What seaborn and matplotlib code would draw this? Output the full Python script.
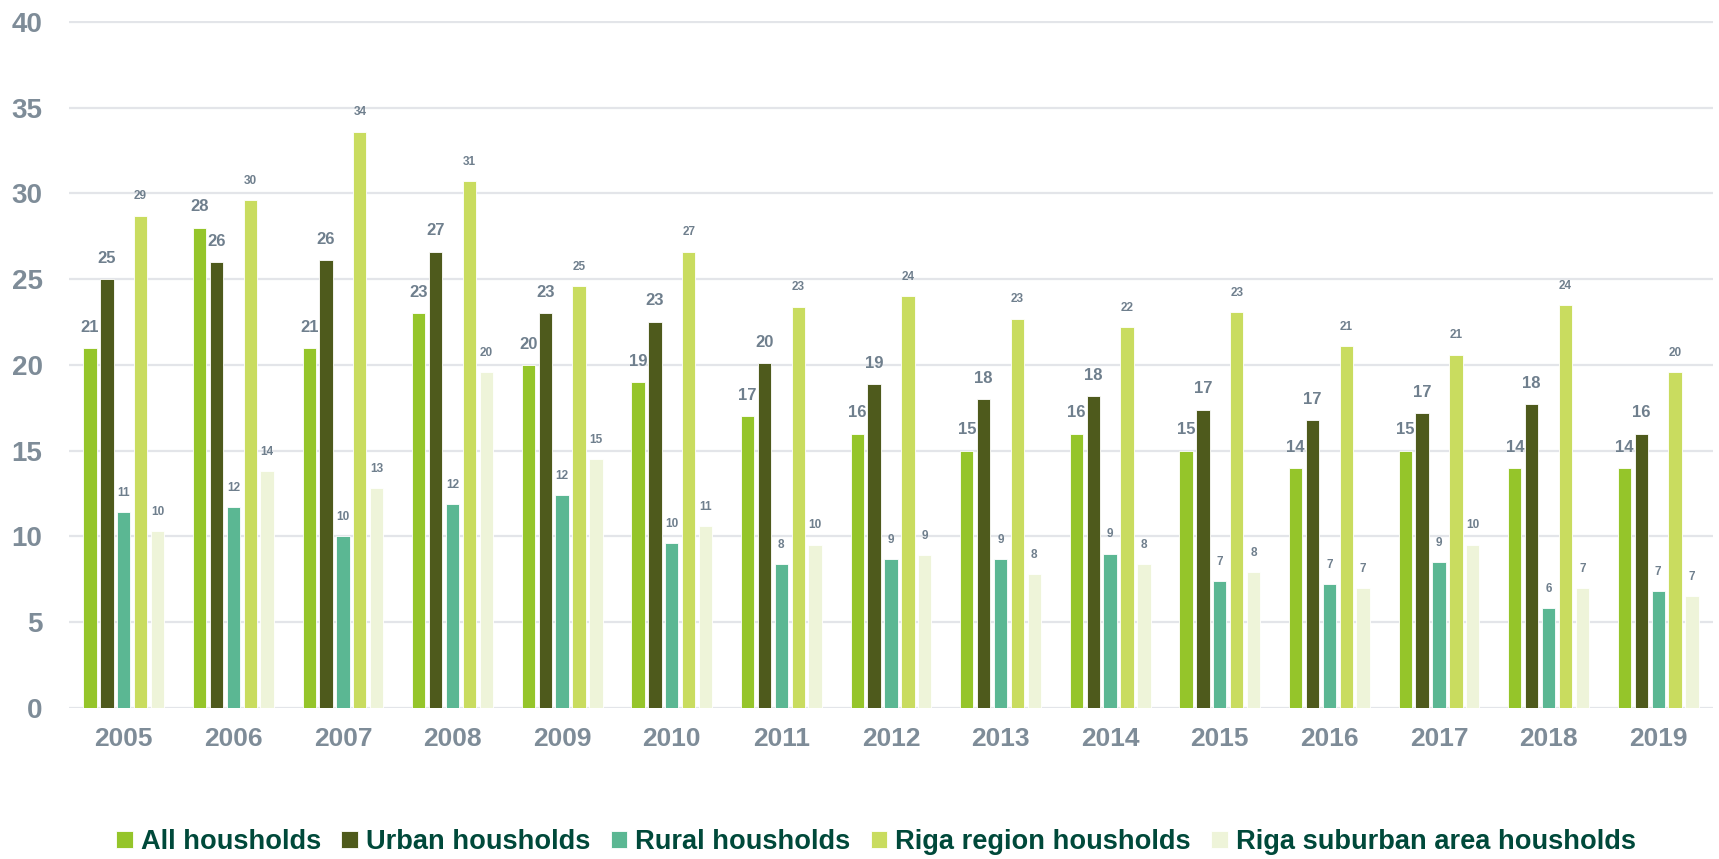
import pandas as pd
import matplotlib.pyplot as plt
import seaborn as sns

years = ['2005', '2006', '2007', '2008', '2009', '2010', '2011', '2012',
         '2013', '2014', '2015', '2016', '2017', '2018', '2019']
series = ['All housholds', 'Urban housholds', 'Rural housholds',
          'Riga region housholds', 'Riga suburban area housholds']

all_hh = [21, 28, 21, 23, 20, 19, 17, 16, 15, 16, 15, 14, 15, 14, 14]
urban_hh = [25, 26, 26.1, 26.6, 23, 22.52, 20.1, 18.9, 18.0, 18.2, 17.4, 16.8, 17.2, 17.7, 16.0]
rural_hh = [11.4, 11.7, 10.0, 11.9, 12.4, 9.6, 8.4, 8.7, 8.7, 9.0, 7.4, 7.2, 8.52, 5.8, 6.8]
riga_hh = [28.7, 29.6, 33.6, 30.7, 24.6, 26.6, 23.4, 24.0, 22.7, 22.2, 23.1, 21.1, 20.6, 23.5, 19.6]
suburb_hh = [10.3, 13.8, 12.8, 19.6, 14.52, 10.6, 9.52, 8.9, 7.8, 8.4, 7.9, 7.0, 9.52, 7.0, 6.52]

colors = ['#95c52a', '#4e5a1c', '#5bb793', '#c9dc5f', '#eef4d9']
tick_color = '#7e8c98'
label_color = '#6f7f8d'

df = pd.DataFrame({
    'year': years * 5,
    'series': [s for s in series for _ in years],
    'value': all_hh + urban_hh + rural_hh + riga_hh + suburb_hh,
})

sns.set_theme(style='white')
plt.rcParams['font.family'] = ['Liberation Sans', 'DejaVu Sans']

fig = plt.figure(figsize=(17.19, 8.59), dpi=100)
ax = fig.add_axes([0.0401, 0.1758, 0.9564, 0.7998])

sns.barplot(data=df, x='year', y='value', hue='series', order=years,
            hue_order=series, palette=colors, saturation=1, width=0.77,
            gap=0.21, edgecolor='white', linewidth=0.6, ax=ax)

# value labels: first two series larger
for i, cont in enumerate(ax.containers):
    vals = [p.get_height() for p in cont]
    big = i < 2
    ax.bar_label(cont, labels=[f'{v:.0f}' for v in vals], padding=9.5,
                 fontsize=12 if big else 8.5, fontweight='bold',
                 color=label_color)

ax.set_xlim(-0.5, 14.5)
ax.set_ylim(0, 40.05)
ax.set_yticks(range(0, 41, 5))
ax.set_xlabel('')
ax.set_ylabel('')
ax.set_axisbelow(True)
ax.yaxis.grid(True, color='#e3e5e9', linewidth=1.6)
for s in ax.spines.values():
    s.set_visible(False)
ax.tick_params(axis='y', length=0, pad=19, labelsize=20, labelcolor=tick_color)
ax.tick_params(axis='x', length=0, pad=14, labelsize=19, labelcolor=tick_color)
for t in ax.get_xticklabels() + ax.get_yticklabels():
    t.set_fontweight('bold')

sns.move_legend(ax, 'center', bbox_to_anchor=(0.491, -0.195), ncol=5,
                frameon=False, title=None, handlelength=0.6,
                handleheight=0.6, handletextpad=0.3, columnspacing=0.75,
                prop={'family': 'Liberation Sans', 'weight': 'bold',
                      'size': 19.6})
for t in ax.get_legend().get_texts():
    t.set_color('#00493a')

fig.savefig('out.png', dpi=100)
